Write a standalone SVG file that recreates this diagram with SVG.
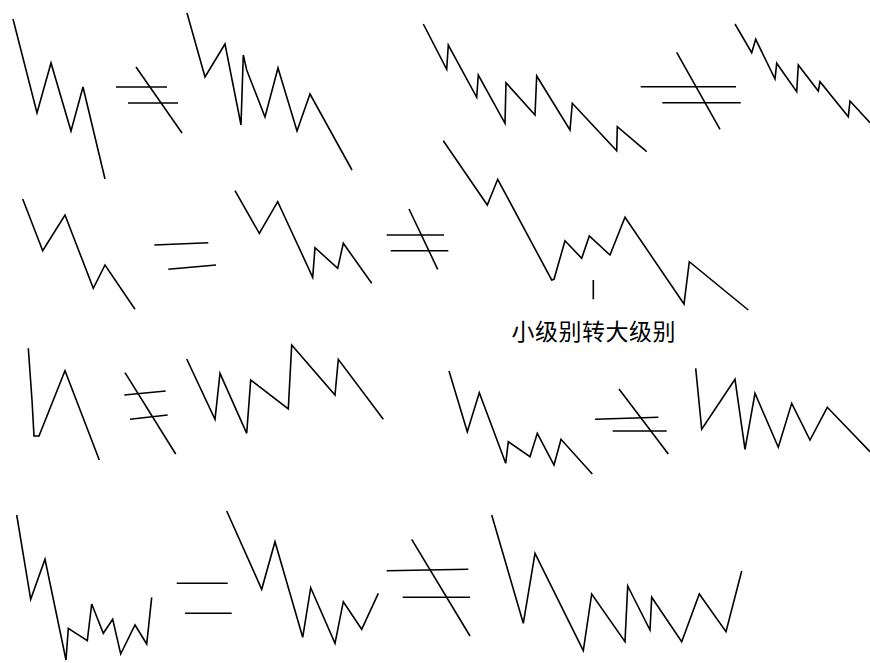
<svg xmlns="http://www.w3.org/2000/svg" width="870" height="663" viewBox="0 0 870 663">
<style>
.w{fill:none;stroke:#000;stroke-width:1.6;stroke-linejoin:miter;stroke-linecap:butt}
.t{font-family:"Noto Sans CJK SC","Noto Sans CJK JP",sans-serif;font-size:23px;fill:#000}
</style>
<rect width="870" height="663" fill="#fff"/>
<g id="row1">
<polyline class="w" points="13,19 37,113 51,63 71,131 83,87 105,179"/>
<g id="neq1"><line class="w" x1="116" y1="87" x2="167" y2="87"/><line class="w" x1="128" y1="103" x2="178" y2="103"/><line class="w" x1="136" y1="67" x2="182" y2="133"/></g>
<polyline class="w" points="187,13 205,77 225,44 241,125 243.3,55 246.7,70 265,117 278,68 297,131 310,94 352,170"/>
<polyline class="w" points="423.3,24 446.7,69.3 448.3,45 476.7,97.3 478.3,75 505,123.3 506,82.7 535,115 536.7,76 570,130 572.3,103.3 616.7,150.7 617.3,126.7 646.7,151.7"/>
<g id="neq2"><line class="w" x1="640.7" y1="86.7" x2="736" y2="86.7"/><line class="w" x1="662.3" y1="102.7" x2="740.7" y2="102.7"/><line class="w" x1="676.7" y1="52.3" x2="720" y2="129.3"/></g>
<polyline class="w" points="735,24 751.7,52.7 755.7,39.3 775,79 776.7,63.3 796.7,91.7 798.3,65 818.3,91 820,81.7 848.3,116.7 850,101 870,122.7"/>
</g>
<g id="row2">
<polyline class="w" points="22.7,199 42.7,250.7 65,215 93.3,288.3 105,265 135,309.3"/>
<g id="eq1"><line class="w" x1="154.3" y1="245" x2="208.3" y2="242.7"/><line class="w" x1="168.3" y1="269.3" x2="216" y2="265"/></g>
<polyline class="w" points="235,190.7 259.3,233.3 277.7,201.7 312.7,277.3 315,247.7 337.7,268.3 343.3,243.3 371.7,283.3"/>
<g id="neq3"><line class="w" x1="386.7" y1="235" x2="444" y2="235"/><line class="w" x1="390.7" y1="250.7" x2="448.3" y2="250.7"/><line class="w" x1="409" y1="209" x2="437.7" y2="269.3"/></g>
<polyline class="w" points="443.3,140.7 487.3,205 497.7,179.3 551.7,280 554,279.3 565,240.7 581.7,258.3 589.3,236 610,255 625,217.3 684,304 689.3,261.7 748.3,310"/>
<line class="w" x1="593.3" y1="280" x2="593.3" y2="299.3"/>
<text class="t" x="511.5" y="340" letter-spacing="0.5">小级别转大级别</text>
</g>
<g id="row3">
<polyline class="w" points="28.3,348.3 32,400 34,436 39,436 65,370.7 99.3,460"/>
<g id="neq4"><line class="w" x1="124.3" y1="395" x2="165.7" y2="391"/><line class="w" x1="130" y1="419.3" x2="167.7" y2="415"/><line class="w" x1="125" y1="372.7" x2="175.7" y2="454"/></g>
<polyline class="w" points="186.7,359 215,419.3 220,373.3 246.7,433.3 250.7,380 288.3,409 291.7,345 335,395 338.3,359.3 383.3,419.3"/>
<polyline class="w" points="449,371 467.3,431.7 479.3,392.7 505.7,463.3 508.3,441.7 530,456.7 537.3,433.3 554,465 561,439.3 592.3,474"/>
<g id="neq5"><line class="w" x1="595" y1="419.3" x2="658.3" y2="417.3"/><line class="w" x1="612.7" y1="431" x2="666.7" y2="431"/><line class="w" x1="619" y1="389" x2="668.3" y2="454"/></g>
<polyline class="w" points="695.7,368.3 701.7,429.3 735,379.3 745,449.3 755,393.3 778.3,447.3 791.7,403.3 810,440 827.3,407.3 870,451.7"/>
</g>
<g id="row4">
<polyline class="w" points="16.7,515 30.7,599.3 45,559.3 66,660 68.3,628.3 87.3,640.7 91.7,604 103.3,633.3 112.7,619.3 120.7,654 135,625 146.7,644 151.7,597.3"/>
<g id="eq2"><line class="w" x1="176.7" y1="583.3" x2="227.7" y2="583.3"/><line class="w" x1="185" y1="613.3" x2="231.7" y2="613.3"/></g>
<polyline class="w" points="226.7,511 261.7,589.3 275,541.7 302.7,637.3 310.7,587.7 335,643.3 343.3,601.7 361.7,629.3 378.3,593.3"/>
<g id="neq6"><line class="w" x1="386.7" y1="570.7" x2="468.3" y2="569.3"/><line class="w" x1="402.7" y1="597.3" x2="470" y2="597.3"/><line class="w" x1="411.7" y1="539.3" x2="470" y2="636"/></g>
<polyline class="w" points="491.7,515 523.3,623.3 535,553.3 583.3,650.7 591.7,594 625,641.7 627.7,586 650,630 651.7,597.3 681.7,641.7 699.3,594 726,631.7 741.7,571"/>
</g>
</svg>
